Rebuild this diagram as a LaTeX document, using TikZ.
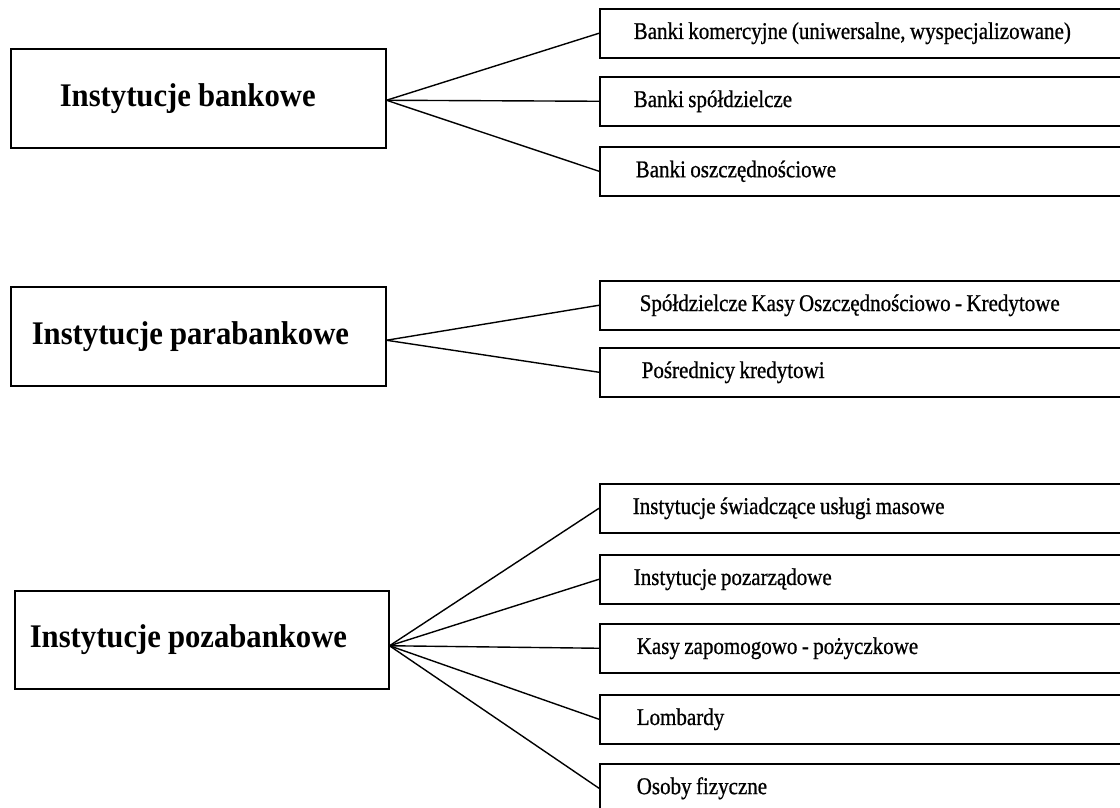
\documentclass[tikz,border=0pt]{standalone}
\usepackage{fontspec}
\setmainfont{Liberation Serif}
\newfontfamily\titlef[FakeStretch=0.93]{Liberation Serif}
\newfontfamily\itemf[FakeStretch=0.875,FakeBold=0.8]{Liberation Serif}
\newcommand\mytitlestyle{\titlef\bfseries\fontsize{33}{38}\selectfont}
\newcommand\myitemstyle{\itemf\fontsize{24}{28}\selectfont}
\begin{document}
\begin{tikzpicture}[x=1pt,y=-1pt,
  mainbox/.style={draw, line width=1.5pt, anchor=north west, minimum height=99pt, align=left,
    font=\mytitlestyle, execute at begin node={\setlength{\spaceskip}{7pt}}},
  itembox/.style={draw, line width=1.5pt, anchor=north west, minimum height=49pt,
    text width=540pt, inner xsep=34pt, align=left, font=\myitemstyle,
    execute at begin node={\setlength{\spaceskip}{4.4pt}}},
  link/.style={line width=1.4pt}]
\clip (0,0) rectangle (1120,807);
\fill[white] (0,0) rectangle (1120,807);

% group 1
\node[mainbox, text width=277pt, inner xsep=49pt] (bank) at (10,48) {Instytucje bankowe};
\node[itembox] (b1) at (599,8) {Banki komercyjne (uniwersalne, wyspecjalizowane)};
\node[itembox] (b2) at (599,76) {Banki spółdzielcze};
\node[itembox, inner xsep=36pt, text width=538pt] (b3) at (599,146) {Banki oszczędnościowe};
\foreach \t in {b1,b2,b3} \draw[link] ([yshift=-2pt]bank.east) -- (\t.west);

% group 2
\node[mainbox, text width=333pt, inner xsep=21pt] (para) at (10,286) {Instytucje parabankowe};
\node[itembox, inner xsep=40pt, text width=534pt] (p1) at (599,280) {Spółdzielcze Kasy Oszczędnościowo - Kredytowe};
\node[itembox, inner xsep=42pt, text width=532pt] (p2) at (599,347) {Pośrednicy kredytowi};
\foreach \t in {p1,p2} \draw[link] ([yshift=-4pt]para.east) -- (\t.west);

% group 3
\node[mainbox, text width=344pt, inner xsep=15pt, minimum height=98pt] (poza) at (14,590) {Instytucje pozabankowe};
\node[itembox, inner xsep=33pt, text width=541pt] (z1) at (599,483) {Instytucje świadczące usługi masowe};
\node[itembox, inner xsep=34pt] (z2) at (599,554) {Instytucje pozarządowe};
\node[itembox, inner xsep=37pt, text width=537pt] (z3) at (599,623) {Kasy zapomogowo - pożyczkowe};
\node[itembox, inner xsep=37pt, text width=537pt] (z4) at (599,694) {Lombardy};
\node[itembox, inner xsep=37pt, text width=537pt] (z5) at (599,763) {Osoby fizyczne};
\foreach \t in {z1,z2,z3,z4,z5} \draw[link] ([yshift=-6pt]poza.east) -- (\t.west);
\end{tikzpicture}
\end{document}
